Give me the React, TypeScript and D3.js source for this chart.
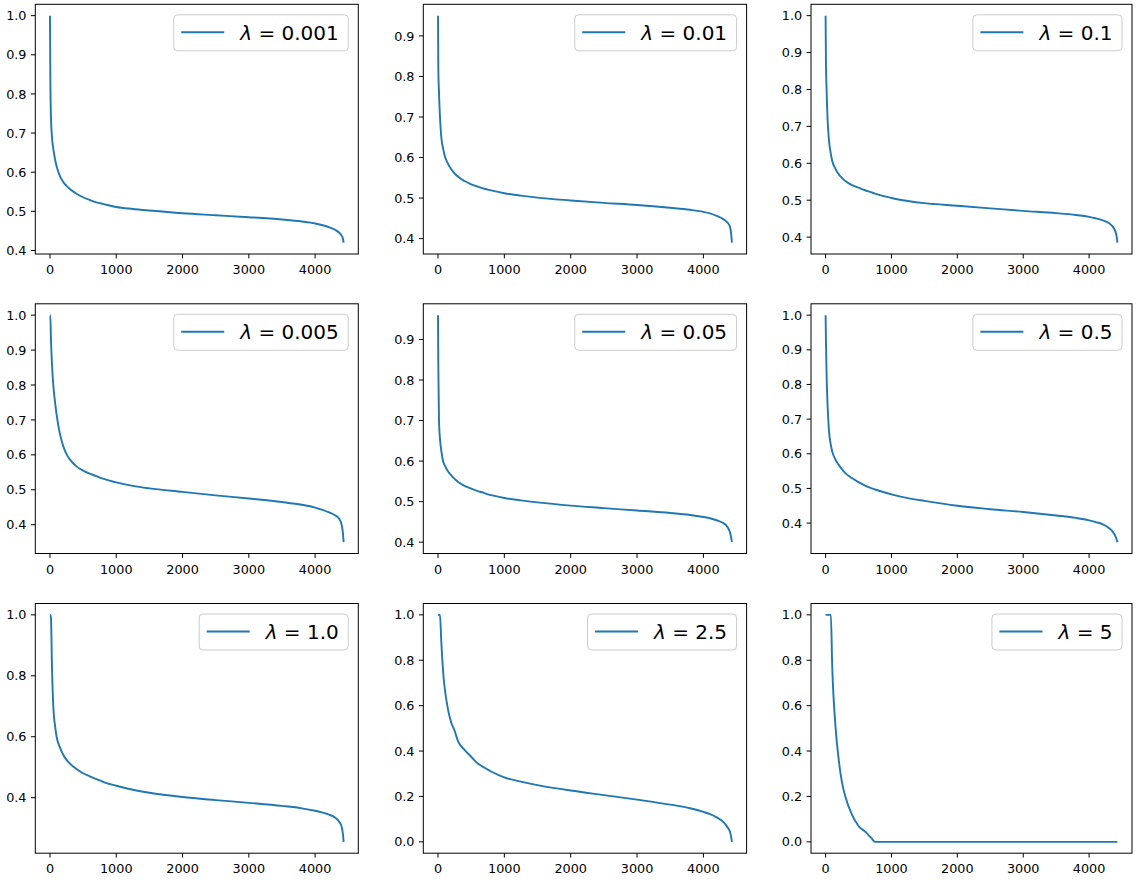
import React, { useRef, useEffect } from 'react';
import * as d3 from 'd3';

// sample positions along the sorted index (shared by every panel)
const rankIdx = [0, 5, 15, 30, 50, 80, 100, 150, 200, 250, 300, 400, 500, 600, 700, 750, 800,
  1000, 1250, 1500, 2000, 2500, 3000, 3500, 3800, 4000, 4100, 4200, 4300, 4360, 4400, 4420, 4430];

// values
const lam0001 = [1.0, 0.85, 0.74, 0.69, 0.66, 0.63, 0.615, 0.59, 0.575, 0.565, 0.557, 0.545, 0.536, 0.529, 0.523, 0.521, 0.519,
  0.511, 0.506, 0.502, 0.495, 0.49, 0.485, 0.479, 0.474, 0.469, 0.465, 0.46, 0.453, 0.446, 0.438, 0.43, 0.42];
const lam001 = [0.95, 0.82, 0.76, 0.70, 0.65, 0.62, 0.605, 0.585, 0.571, 0.561, 0.553, 0.542, 0.534, 0.528, 0.523, 0.521, 0.519,
  0.512, 0.506, 0.501, 0.494, 0.488, 0.483, 0.476, 0.471, 0.466, 0.462, 0.456, 0.448, 0.44, 0.43, 0.41, 0.39];
const lam01 = [1.0, 0.88, 0.8, 0.72, 0.665, 0.625, 0.607, 0.585, 0.57, 0.56, 0.552, 0.541, 0.534, 0.527, 0.521, 0.518, 0.515,
  0.506, 0.498, 0.492, 0.485, 0.478, 0.471, 0.465, 0.46, 0.455, 0.451, 0.446, 0.438, 0.428, 0.415, 0.4, 0.385];
const lam0005 = [1.0, 1.0, 0.93, 0.86, 0.80, 0.745, 0.715, 0.66, 0.625, 0.602, 0.587, 0.567, 0.555, 0.546, 0.539, 0.535, 0.532,
  0.521, 0.511, 0.504, 0.494, 0.484, 0.475, 0.465, 0.457, 0.449, 0.443, 0.436, 0.427, 0.418, 0.4, 0.375, 0.35];
const lam005 = [0.96, 0.83, 0.70, 0.655, 0.625, 0.598, 0.59, 0.575, 0.565, 0.556, 0.549, 0.539, 0.532, 0.526, 0.521, 0.518, 0.516,
  0.509, 0.503, 0.498, 0.49, 0.484, 0.478, 0.472, 0.467, 0.462, 0.459, 0.454, 0.447, 0.438, 0.425, 0.41, 0.4];
const lam05 = [1.0, 0.93, 0.83, 0.74, 0.67, 0.625, 0.607, 0.583, 0.568, 0.555, 0.544, 0.53, 0.518, 0.508, 0.5, 0.497, 0.494,
  0.483, 0.472, 0.464, 0.45, 0.44, 0.432, 0.422, 0.415, 0.408, 0.403, 0.397, 0.386, 0.375, 0.362, 0.352, 0.345];
const lam1 = [1.0, 1.0, 0.99, 0.83, 0.70, 0.63, 0.60, 0.565, 0.541, 0.524, 0.512, 0.494, 0.48, 0.47, 0.461, 0.457, 0.452,
  0.439, 0.426, 0.416, 0.402, 0.392, 0.383, 0.373, 0.365, 0.357, 0.352, 0.345, 0.335, 0.322, 0.305, 0.28, 0.255];
const lam25 = [1.0, 1.0, 1.0, 1.0, 0.88, 0.74, 0.68, 0.585, 0.525, 0.49, 0.445, 0.405, 0.375, 0.345, 0.327, 0.318, 0.31,
  0.284, 0.265, 0.25, 0.226, 0.206, 0.186, 0.164, 0.148, 0.132, 0.122, 0.108, 0.088, 0.066, 0.045, 0.02, 0.0];
const lam5 = [1.0, 1.0, 1.0, 1.0, 1.0, 1.0, 0.78, 0.51, 0.36, 0.26, 0.2, 0.12, 0.07, 0.045, 0.015, 0.0, 0.0,
  0, 0, 0, 0, 0, 0, 0, 0, 0, 0, 0, 0, 0, 0, 0, 0];

const lambdaLabels = ['0.001', '0.01', '0.1', '0.005', '0.05', '0.5', '1.0', '2.5', '5'];

const xTickVals = [0, 1000, 2000, 3000, 4000];
const yTicksTenth = [0.4, 0.5, 0.6, 0.7, 0.8, 0.9, 1.0];
const yTicksTenthShort = [0.4, 0.5, 0.6, 0.7, 0.8, 0.9];
const yTicksFifth = [0.4, 0.6, 0.8, 1.0];
const yTicksFull = [0.0, 0.2, 0.4, 0.6, 0.8, 1.0];

const panelSeries = [lam0001, lam001, lam01, lam0005, lam005, lam05, lam1, lam25, lam5];
const panelYTicks = [yTicksTenth, yTicksTenthShort, yTicksTenth, yTicksTenth, yTicksTenthShort, yTicksTenth,
  yTicksFifth, yTicksFull, yTicksFull];

const W = 1140;
const H = 883;
const colLeft = [35.3, 423.3, 811];
const colWidth = [323, 323.3, 321];
const rowTop = [4.3, 303.8, 603.5];
const rowHeight = 249.7;
const FONT = '"DejaVu Sans", sans-serif';
const LINE_COLOR = '#1f77b4';

export default function App() {
  const svgRef = useRef<SVGSVGElement>(null);

  useEffect(() => {
    const svg = d3.select(svgRef.current);
    svg.selectAll('*').remove();

    panelSeries.forEach((vals, i) => {
      const left = colLeft[i % 3];
      const pw = colWidth[i % 3];
      const top = rowTop[Math.floor(i / 3)];
      const ph = rowHeight;

      // matplotlib style 5% auto margins
      const xMax = rankIdx[rankIdx.length - 1];
      const xScale = d3.scaleLinear()
        .domain([-0.05 * xMax, 1.05 * xMax])
        .range([left, left + pw]);
      const [yMin, yMax] = d3.extent(vals) as [number, number];
      const pad = (yMax - yMin) * 0.05;
      const yScale = d3.scaleLinear()
        .domain([yMin - pad, yMax + pad])
        .range([top + ph, top]);

      const g = svg.append('g');

      // 曲線
      const pts = rankIdx.map((x, k) => [x, vals[k]] as [number, number]);
      const line = d3.line<[number, number]>()
        .x(d => xScale(d[0]))
        .y(d => yScale(d[1]))
        .curve(d3.curveMonotoneX);
      g.append('path')
        .attr('d', line(pts))
        .attr('fill', 'none')
        .attr('stroke', LINE_COLOR)
        .attr('stroke-width', 1.9)
        .attr('stroke-linejoin', 'round');

      // axes frame
      g.append('rect')
        .attr('x', left).attr('y', top)
        .attr('width', pw).attr('height', ph)
        .attr('fill', 'none').attr('stroke', '#000').attr('stroke-width', 1);

      // x ticks
      const xAxis = g.append('g').attr('transform', `translate(0,${top + ph})`);
      xTickVals.forEach(t => {
        const x = xScale(t);
        xAxis.append('line').attr('x1', x).attr('x2', x).attr('y1', 0).attr('y2', 4.4)
          .attr('stroke', '#000').attr('stroke-width', 1);
        xAxis.append('text').attr('x', x).attr('y', 20.3)
          .attr('text-anchor', 'middle')
          .attr('font-family', FONT).attr('font-size', 12.8).attr('fill', '#000')
          .text(String(t));
      });

      // y ticks
      const yAxis = g.append('g').attr('transform', `translate(${left},0)`);
      panelYTicks[i].forEach(t => {
        const y = yScale(t);
        yAxis.append('line').attr('x1', -4.4).attr('x2', 0).attr('y1', y).attr('y2', y)
          .attr('stroke', '#000').attr('stroke-width', 1);
        yAxis.append('text').attr('x', -8.8).attr('y', y + 4.6)
          .attr('text-anchor', 'end')
          .attr('font-family', FONT).attr('font-size', 12.8).attr('fill', '#000')
          .text(t.toFixed(1));
      });

      // legend (upper right)
      const legRight = left + pw - 10;
      const legTop = top + 10.5;
      const legH = 36;
      const leg = g.append('g');
      const box = leg.append('rect');
      const txt = leg.append('text')
        .attr('x', legRight - 9.5)
        .attr('y', legTop + 25)
        .attr('text-anchor', 'end')
        .attr('font-family', FONT).attr('font-size', 20).attr('fill', '#000');
      txt.append('tspan').attr('font-style', 'italic').text('λ');
      txt.append('tspan').text(' = ' + lambdaLabels[i]);
      const tw = (txt.node() as SVGTextElement).getComputedTextLength();
      const textStart = legRight - 9.5 - tw;
      const handleEnd = textStart - 16;
      const handleStart = handleEnd - 43;
      const legLeft = handleStart - 7.5;
      box.attr('x', legLeft).attr('y', legTop)
        .attr('width', legRight - legLeft).attr('height', legH)
        .attr('rx', 4).attr('ry', 4)
        .attr('fill', '#fff').attr('fill-opacity', 0.8)
        .attr('stroke', '#cccccc').attr('stroke-width', 1);
      leg.append('line')
        .attr('x1', handleStart).attr('x2', handleEnd)
        .attr('y1', legTop + 17.5).attr('y2', legTop + 17.5)
        .attr('stroke', LINE_COLOR).attr('stroke-width', 1.9);
    });
  }, []);

  return (
    <svg
      ref={svgRef}
      width={W}
      height={H}
      style={{ position: 'absolute', left: 0, top: 0, background: '#fff' }}
    />
  );
}
